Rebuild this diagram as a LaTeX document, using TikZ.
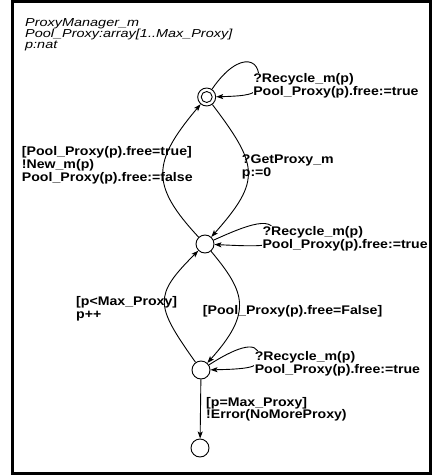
\documentclass[tikz,border=0pt]{standalone}
\usepackage{fontspec}
\setmainfont{Liberation Sans}
\newfontfamily\lblfont[FakeStretch=1.13]{Liberation Sans}
\newfontfamily\hdrfont[FakeStretch=1.245]{Liberation Sans}
\usetikzlibrary{arrows.meta}
\begin{document}
\begin{tikzpicture}[x=1pt,y=-1pt,
  st/.style={circle,draw,line width=0.9pt,minimum size=18pt,inner sep=0pt},
  tr/.style={line width=0.9pt,-{Stealth[length=7pt,width=5pt,inset=1.5pt]}},
  lbl/.style={anchor=base west,inner sep=0pt,align=left,font={\lblfont\bfseries\fontsize{12.5}{12.8}\selectfont}},
  loopl/.style={lbl,fill=white,inner sep=0.6pt},
  hdr/.style={anchor=base west,inner sep=0pt,align=left,font={\hdrfont\itshape\fontsize{11.6}{10.9}\selectfont}}]
\useasboundingbox (0,0) rectangle (432,476);
\draw[line width=3pt] (12,1.5) rectangle (430.5,473.5);
% text anchors are at the baseline of the last line
\node[hdr] (hdr) at (25,48.5) {ProxyManager\_m\\Pool\_Proxy:array[1..Max\_Proxy]\\p:nat};
% states
\node[st] (T) at (206.7,97) {};
\node[circle,draw,line width=0.9pt,minimum size=11pt,inner sep=0pt] (Tin) at (T) {};
\node[st] (M) at (205,244) {};
\node[st] (B) at (201,370) {};
\node[st] (F) at (200,448) {};
% transitions
\draw[tr] (T) .. controls (240,48) and (266,58) .. (257,88) .. controls (255,94) and (248,96) .. (T);
\draw[tr] (M) .. controls (150,185) and (152,162) .. (T);
\draw[tr] (T) .. controls (258,165) and (262,180) .. (M);
\draw[tr] (M) .. controls (245,226) and (278,212) .. (274,238) .. controls (272,246) and (265,247) .. (M);
\draw[tr] (B) .. controls (155,305) and (153,296) .. (M);
\draw[tr] (M) .. controls (245,292) and (253,312) .. (B);
\draw[tr] (B) .. controls (232,350) and (258,338) .. (259,356) .. controls (260,366) and (255,369) .. (B);
\draw[tr] (B) -- (F);
% labels
\node[loopl] (l1) at (252.5,95.3) {?Recycle\_m(p)\\Pool\_Proxy(p).free:=true};
\node[lbl] (l2) at (21.7,181.1) {[Pool\_Proxy(p).free=true]\\!New\_m(p)\\Pool\_Proxy(p).free:=false};
\node[lbl] (l3) at (241.7,176.3) {?GetProxy\_m\\p:=0};
\node[loopl] (l4) at (261.7,248.3) {?Recycle\_m(p)\\Pool\_Proxy(p).free:=true};
\node[lbl] (l5) at (76,318.3) {[p<Max\_Proxy]\\p++};
\node[lbl] (l6) at (202.7,314.5) {[Pool\_Proxy(p).free=False]};
\node[loopl] (l7) at (254,373.3) {?Recycle\_m(p)\\Pool\_Proxy(p).free:=true};
\node[lbl,font={\lblfont\bfseries\fontsize{12.5}{11.8}\selectfont}] (l8) at (206,418.3) {[p=Max\_Proxy]\\!Error(NoMoreProxy)};
\end{tikzpicture}
\end{document}
